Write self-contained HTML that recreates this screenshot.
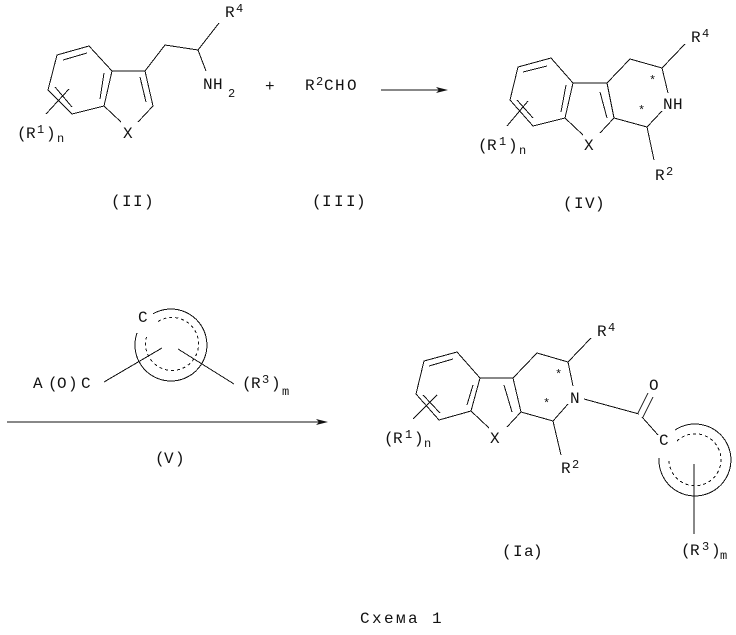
<!DOCTYPE html>
<html><head><meta charset="utf-8"><style>
html,body{margin:0;padding:0;background:#fff}
svg{display:block}
text{font-family:"Liberation Mono","DejaVu Sans Mono",monospace;font-size:16px;fill:#111}
text.s{font-size:12px}
text.a{font-size:12px}
path.l{fill:none;stroke:#111;stroke-width:1;shape-rendering:crispEdges}
path.d{fill:none;stroke:#111;stroke-width:1;stroke-dasharray:3 3;shape-rendering:crispEdges}
</style></head><body>
<svg width="736" height="635" viewBox="0 0 736 635" xmlns="http://www.w3.org/2000/svg">
<!-- II -->
<path class="l" d="M89 46L57 55L48 90L72 114L104 106L112 71ZM63 60L87 53M104 73L100 99M55 87L72 107M112 71H145L153 106L138 122M104 106L121 122M140 77L146 102M145 71L165 45L198 50L219 23M198 50L206 71M46 114L69 89"/>
<text x="225" y="17">R</text><text class="s" x="236" y="12">4</text>
<text x="203 213" y="89">NH</text><text class="s" x="228" y="97">2</text>
<text x="265" y="91">+</text>
<text x="17 26" y="138">(R</text><text class="s" x="37" y="133">1</text><text x="46" y="138">)</text><text class="s" x="57" y="142">n</text>
<text x="123" y="138">X</text>
<text x="111 122 133 144" y="206">(II)</text>
<!-- III -->
<text x="305" y="90">R</text><text class="s" x="316" y="85">2</text><text x="324 335 347" y="90">CHO</text>
<text x="312 322 334 346 356" y="206">(III)</text>
<path class="l" d="M381 90H446"/>
<path d="M436 87L448 90L436 93L439 90Z" fill="#111"/>
<!-- IV -->
<path class="l" d="M551 58L518 67L510 100L533 126L565 118L573 83ZM523 72L547 66M566 85L561 112M517 100L533 118M573 83H607L614 118L600 133M565 118L583 135M600 92L607 118M607 83L630 59L662 68L668 93M662 68L685 44M614 118L647 127L662 111M647 127L654 160M507 126L528 101"/>
<text x="691" y="42">R</text><text class="s" x="702" y="37">4</text>
<text x="663 673" y="109">NH</text>
<text x="655" y="180">R</text><text class="s" x="666" y="175">2</text>
<text x="584" y="150">X</text>
<text x="478 487" y="150">(R</text><text class="s" x="499" y="145">1</text><text x="508" y="150">)</text><text class="s" x="519" y="154">n</text>
<text class="a" x="649" y="84">*</text><text class="a" x="638" y="114">*</text>
<text x="563 574 585 595" y="208">(IV)</text>
<!-- V -->
<path class="l" d="M153 313.8A36 36 0 1 1 137 333M104 382L162 348M178 349L234 384M7 422H326"/>
<path class="d" d="M158 321.5A26.5 26.5 0 1 1 146.5 337"/>
<path d="M316 419L328 422L316 425L319 422Z" fill="#111"/>
<text x="138" y="322">C</text>
<text x="33 48 57 68 81" y="388">A(O)C</text>
<text x="242 251" y="388">(R</text><text class="s" x="262" y="383">3</text><text x="271" y="388">)</text><text class="s" x="282" y="395">m</text>
<text x="155 164 175" y="463">(V)</text>
<!-- Ia -->
<path class="l" d="M457 352L424 361L416 394L439 420L471 411L480 378ZM429 366L453 359M473 385L467 405M423 395L440 413M480 378H513L521 412L507 427M471 411L489 428M504 385L512 412M513 378L537 353L568 362L573 386M568 362L591 338M521 412L553 421L568 404M553 421L561 455M584 399L639 414M638 413L648 393M643 417L653 397M642 417L658 435M694 464V534M413 419L437 395"/>
<path class="l" d="M675 430A36 36 0 1 1 659 458"/>
<path class="d" d="M677 441A26 26 0 1 1 669 460"/>
<text x="597" y="336">R</text><text class="s" x="608" y="331">4</text>
<text x="649" y="390">O</text>
<text x="570" y="403">N</text>
<text x="490" y="443">X</text>
<text x="659" y="445">C</text>
<text x="384 393" y="443">(R</text><text class="s" x="405" y="438">1</text><text x="414" y="443">)</text><text class="s" x="424" y="447">n</text>
<text x="561" y="473">R</text><text class="s" x="572" y="468">2</text>
<text class="a" x="555" y="378">*</text><text class="a" x="543" y="407">*</text>
<text x="502 513 524 533" y="556">(Ia)</text>
<text x="681 690" y="555">(R</text><text class="s" x="702" y="550">3</text><text x="711" y="555">)</text><text class="s" x="720" y="559">m</text>
<!-- caption -->
<text x="360 372 384 396 408 420 432" y="623">Схема 1</text>
</svg>
</body></html>
